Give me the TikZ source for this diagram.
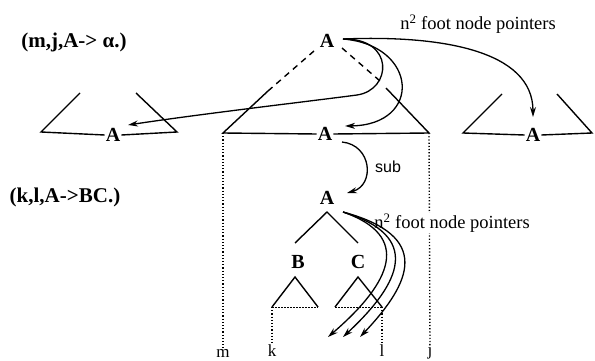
\documentclass[tikz,border=0pt]{standalone}
\usepackage{fontspec}
\setmainfont{Liberation Serif}
\setsansfont{Liberation Sans}
\usetikzlibrary{arrows.meta}
\begin{document}
\begin{tikzpicture}[x=1pt,y=-1pt,
  ln/.style={line width=1.4pt},
  dsh/.style={line width=1.4pt,dash pattern=on 6pt off 5pt},
  dotl/.style={line width=1.4pt,dash pattern=on 1.2pt off 2pt},
  basedot/.style={line width=1pt,dash pattern=on 1.5pt off 1.5pt},
  arr/.style={line width=1.3pt,-{Stealth[length=10pt,width=6pt]}},
  big/.style={inner sep=1pt,font=\fontsize{20}{22}\selectfont\bfseries},
  hdr/.style={inner sep=1pt,font=\fontsize{21}{24}\selectfont\bfseries},
  txt/.style={inner sep=1pt,font=\fontsize{18.5}{20}\selectfont},
  idx/.style={inner sep=1pt,font=\fontsize{17}{19}\selectfont}]
\useasboundingbox (0,0) rectangle (595,361);

% header texts
\node[hdr] (r1) at (74,42) {(m,j,A-> α.)};
\node[hdr] (r2) at (65,197) {(k,l,A->BC.)};

% nodes
\node[big] (Atop) at (327,41) {A};
\node[big] (Acen) at (325,134) {A};
\node[big] (Aleft) at (113,135) {A};
\node[big] (Aright) at (533,135) {A};
\node[big] (Alow) at (327,198) {A};
\node[big] (B) at (298,262) {B};
\node[big] (C) at (358,262) {C};

\coordinate (TL) at (223,133);
\coordinate (TR) at (429,133);

% main triangle
\draw[dsh] (314,51) -- (268,91);
\draw[ln] (268,91) -- (TL) -- (Acen.west);
\draw[ln] (Acen.east) -- (TR) -- (386,88);
\draw[dsh] (342,48) -- (380,81);

% left triangle
\draw[ln] (80,93) -- (41,132) -- (Aleft.west);
\draw[ln] (Aleft.east) -- (177,132) -- (136,93);

% right triangle
\draw[ln] (502,94) -- (463,133) -- (Aright.west);
\draw[ln] (Aright.east) -- (592,133) -- (557,94);

% lower tree
\draw[ln] (295,243) -- (327,212) -- (358,243);
\draw[ln] (272,307) -- (295,277) -- (318,307);
\draw[basedot] (272,307) -- (318,307);
\draw[ln] (335,307) -- (358,277) -- (382,307);
\draw[basedot] (335,307) -- (382,307);

% index labels and dotted lines
\node[idx] (m) at (223,353) {m};
\node[idx] (k) at (272,351) {k};
\node[idx] (l) at (382,351) {l};
\node[idx] (j) at (430,352) {j};
\draw[dotl] (TL) -- (m.north);
\draw[dotl] (TR) -- (j.north);
\draw[dotl] (272,307) -- (k.north);
\draw[dotl] (382,307) -- (l.north);

% labels
\node[txt] (lab1) at (478,24) {n\textsuperscript{2} foot node pointers};
\node[txt,fill=white] (lab2) at (452,223) {n\textsuperscript{2} foot node pointers};
\node[txt,font=\fontsize{16}{18}\selectfont\sffamily] (sublab) at (388,167) {sub};

% upper arrows
\coordinate (s0) at (343,39);
\draw[arr] (s0) .. controls (395,38) and (392,90) .. (357,95)
  .. controls (320,100) and (200,114) .. (128,125);
\draw[arr] (s0) .. controls (418,45) and (423,125) .. (345,126);
\draw[arr] (s0) .. controls (440,35) and (533,50) .. (533,117);

% sub arrow
\draw[arr] (342,142) .. controls (372,145) and (375,185) .. (347,193);

% lower arrows
\coordinate (s1) at (343,212);
\draw[arr] (s1) .. controls (412,236) and (392,282) .. (328,337);
\draw[arr] (s1) .. controls (422,236) and (402,282) .. (343,337);
\draw[arr] (s1) .. controls (432,236) and (412,282) .. (360,337);
\end{tikzpicture}
\end{document}
